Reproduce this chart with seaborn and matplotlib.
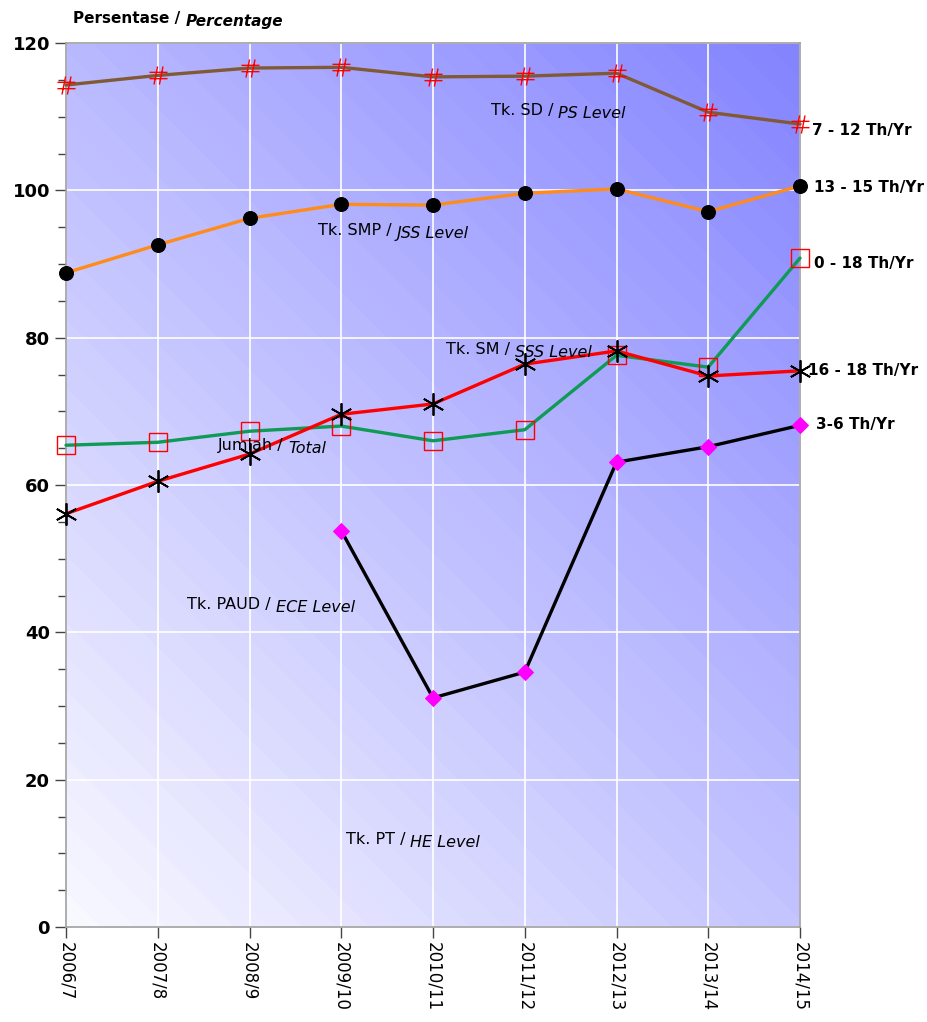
import matplotlib.pyplot as plt
import numpy as np
import pandas as pd
import seaborn as sns
from matplotlib.path import Path

# * --- Data ---
years = ["2006/7", "2007/8", "2008/9", "2009/10", "2010/11",
         "2011/12", "2012/13", "2013/14", "2014/15"]

sd_ps = [114.3, 115.6, 116.6, 116.7, 115.4, 115.5, 115.9, 110.6, 109.0]
smp_jss = [88.8, 92.6, 96.2, 98.1, 98.0, 99.6, 100.2, 97.1, 100.6]
total = [65.4, 65.8, 67.3, 68.0, 66.0, 67.5, 77.6, 76.0, 90.8]
sm_sss = [56.1, 60.5, 64.2, 69.6, 71.0, 76.4, 78.2, 74.8, 75.5]
paud_ece = [np.nan, np.nan, np.nan, 53.8, 31.1, 34.6, 63.1, 65.2, 68.1]

age_labels = ["7 - 12 Th/Yr", "13 - 15 Th/Yr", "0 - 18 Th/Yr",
              "16 - 18 Th/Yr", "3-6 Th/Yr"]

sns.set_theme(style="white")
plt.rcParams["font.family"] = ["DejaVu Sans"]
plt.rcParams["text.color"] = "black"
plt.rcParams["xtick.color"] = "black"
plt.rcParams["ytick.color"] = "black"

df = pd.DataFrame({
    "x": np.arange(len(years)),
    "sd": sd_ps,
    "smp": smp_jss,
    "total": total,
    "sm": sm_sss,
    "paud": paud_ece,
})

fig = plt.figure(figsize=(9.27, 10.22), dpi=100)
ax = fig.add_axes([66 / 927, 95 / 1022, 734 / 927, 884 / 1022])

# gradient background, light bottom-left -> blue top-right, with faint banding
H, W = 884, 734
u = np.linspace(0, 1, W)[None, :]
v = np.linspace(0, 1, H)[:, None]
t = (u * W + (1 - v) * H) / (W + H)
t = np.floor(t * 48) / 48
rg = (248 - 118 * t) / 255
img = np.dstack([rg, rg, np.full_like(rg, 1.0)])
ax.imshow(img, extent=(0, 8, 0, 120), aspect="auto", zorder=0, origin="upper")

# thin hash marker (like the '#' in the reference)
hash_marker = Path(
    [(-1, 0.35), (1, 0.35), (-1, -0.35), (1, -0.35),
     (-0.1, 1), (-0.5, -1), (0.5, 1), (0.1, -1)],
    [Path.MOVETO, Path.LINETO, Path.MOVETO, Path.LINETO,
     Path.MOVETO, Path.LINETO, Path.MOVETO, Path.LINETO],
)

series = [
    ("sd", "#7f5a35", dict(marker=hash_marker, markersize=13, markerfacecolor="none",
                           markeredgecolor="red", markeredgewidth=1.0)),
    ("smp", "#ff8c1a", dict(marker="o", markersize=10, markerfacecolor="black",
                            markeredgecolor="black")),
    ("total", "#0f9a55", dict(marker="s", markersize=13, markerfacecolor="none",
                              markeredgecolor="red", markeredgewidth=1.0)),
    ("sm", "#ff0000", dict(marker=(6, 2, 0), markersize=16, markeredgecolor="black",
                           markeredgewidth=1.3)),
    ("paud", "#000000", dict(marker="D", markersize=8, markerfacecolor="#ff00ff",
                             markeredgecolor="#ff00ff")),
]
for col, color, mk in series:
    sns.lineplot(data=df, x="x", y=col, ax=ax, color=color, linewidth=2.4,
                 clip_on=False, zorder=3, **mk)

ax.set_xlim(0, 8)
ax.set_ylim(0, 120)
ax.set_xticks(np.arange(len(years)))
ax.set_xticklabels(years, rotation=270, fontsize=12)
ax.set_yticks(np.arange(0, 121, 20))
ax.set_yticks(np.arange(0, 121, 5), minor=True)
for lbl in ax.get_yticklabels():
    lbl.set_fontweight("bold")
    lbl.set_fontsize(13)
ax.tick_params(axis="both", which="major", direction="out", length=8,
               width=1, color="#444444", left=True, bottom=True)
ax.tick_params(axis="y", which="minor", direction="out", length=6,
               width=1, color="#444444", left=True)
ax.tick_params(axis="x", pad=3)
ax.set_xlabel("")
ax.set_ylabel("")
ax.set_axisbelow(True)
ax.grid(True, which="major", color="white", linewidth=1.2, zorder=1)
for sp in ax.spines.values():
    sp.set_color("#a0a0a0")
    sp.set_linewidth(1.2)


def two_part(x, y, plain, italic, size=11.5, weight="normal"):
    kw = dict(fontsize=size, fontweight=weight, va="baseline", ha="left",
              color="black")
    first = ax.text(x, y, plain, zorder=4, clip_on=False, **kw)
    ax.annotate(italic, xy=(1, 0), xycoords=first, fontstyle="italic",
                zorder=4, annotation_clip=False, **kw)


# in-plot level labels
two_part(4.63, 110.2, "Tk. SD / ", "PS Level")
two_part(2.75, 94.0, "Tk. SMP / ", "JSS Level")
two_part(4.14, 77.8, "Tk. SM / ", "SSS Level")
two_part(1.65, 64.8, "Jumlah / ", "Total")
two_part(1.32, 43.2, "Tk. PAUD / ", "ECE Level")
two_part(3.05, 11.2, "Tk. PT / ", "HE Level")

# age labels on the right edge
right_y = [107.5, 99.8, 89.4, 75.0, 67.6]
right_x = [8.13, 8.15, 8.15, 8.09, 8.17]
for lx, ly, lab in zip(right_x, right_y, age_labels):
    ax.text(lx, ly, lab, fontsize=11, fontweight="bold", ha="left",
            va="baseline", clip_on=False)

# header
head = fig.text(73 / 927, 1 - 23 / 1022, "Persentase / ", fontsize=11,
                fontweight="bold", va="baseline", ha="left")
ax.annotate("Percentage", xy=(1, 0), xycoords=head, fontsize=11,
            fontweight="bold", fontstyle="italic", va="baseline", ha="left",
            annotation_clip=False)

fig.savefig("out.png", dpi=100)
